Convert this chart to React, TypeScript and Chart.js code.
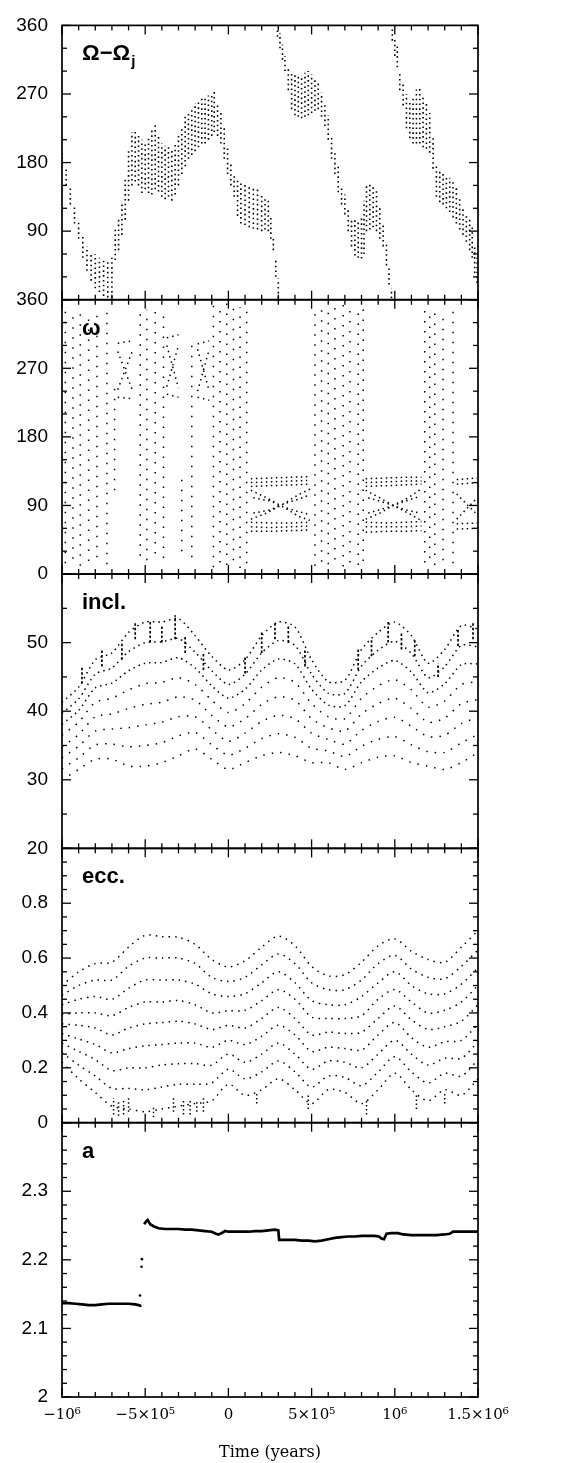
import { useEffect, useRef } from 'react';
import { Chart, registerables } from 'chart.js';

Chart.register(...registerables);

const KYR = 1000;

// ---------- axes ----------
const X_MIN = -1000000;
const X_MAX = 1500000;
const X_TICK_VALUES = [-1000000, -500000, 0, 500000, 1000000, 1500000];
const X_TICK_LABELS = ['−10⁶', '−5×10⁵', '0', '5×10⁵', '10⁶', '1.5×10⁶'];
const X_TITLE = 'Time (years)';

const NODE_TICKS = [90, 180, 270, 360];
const NODE_TICK_LABELS = ['90', '180', '270', '360'];
const PERI_TICKS = [0, 90, 180, 270, 360];
const PERI_TICK_LABELS = ['0', '90', '180', '270', '360'];
const INC_TICKS = [20, 30, 40, 50];
const INC_TICK_LABELS = ['20', '30', '40', '50'];
const ECC_TICKS = [0, 0.2, 0.4, 0.6, 0.8];
const ECC_TICK_LABELS = ['0', '0.2', '0.4', '0.6', '0.8'];
const A_TICKS = [2, 2.1, 2.2, 2.3];
const A_TICK_LABELS = ['2', '2.1', '2.2', '2.3'];

// ---------- panel 1 : Omega - Omega_j (deg), times in kyr ----------
const NODE_A_T = [-1000, -975, -950, -925, -900, -875, -850, -825, -800, -775, -750, -725, -700,
  -680, -660, -640, -620, -600, -580, -560, -540, -520, -500, -480, -460, -440, -420, -400, -380, -360, -340, -320, -300, -280, -260, -240, -220, -200, -180, -160, -140, -120, -100,
  -85, -65, -45, -25, -5, 15, 35, 55, 75,
  100, 125, 150, 175, 200,
  220, 240, 255, 270, 285, 300];
const NODE_A_HI = [195, 175, 150, 125, 105, 85, 70, 62, 60, 55, 52, 50, 55,
  95, 108, 128, 160, 195, 220, 222, 215, 210, 208, 212, 222, 232, 215, 205, 202, 200, 198, 205, 215, 228, 240, 248, 252, 258, 262, 265, 265, 268, 270,
  273, 258, 245, 225, 200, 180, 162, 158, 155,
  152, 150, 148, 145, 140,
  135, 130, 110, 80, 55, 28];
const NODE_A_LO = [172, 150, 125, 100, 80, 55, 38, 25, 15, 10, 5, 3, 3,
  52, 65, 85, 105, 130, 150, 155, 150, 140, 145, 140, 138, 145, 142, 135, 132, 135, 130, 138, 150, 165, 175, 185, 190, 195, 200, 205, 205, 210, 215,
  220, 215, 205, 185, 165, 150, 135, 110, 100,
  98, 95, 93, 92, 90,
  92, 90, 80, 65, 30, 2];

const NODE_B_T = [295, 310, 325, 340,
  360, 380, 400, 420, 440, 460, 480, 500, 520, 540, 560, 580, 600, 620, 640, 660, 680, 700, 720, 740, 760, 780, 800,
  815, 830, 850, 870, 890, 910, 930, 950, 965, 980];
const NODE_B_HI = [358, 350, 335, 320,
  305, 300, 296, 293, 295, 298, 300, 296, 290, 285, 272, 258, 242, 215, 195, 176, 150, 138, 120, 108, 106, 105, 110,
  130, 152, 155, 150, 145, 120, 100, 76, 45, 15];
const NODE_B_LO = [345, 330, 315, 300,
  275, 250, 242, 240, 238, 240, 242, 245, 248, 250, 240, 228, 210, 185, 165, 141, 125, 112, 90, 70, 58, 55, 54,
  60, 90, 92, 95, 90, 80, 70, 45, 20, 2];

const NODE_C_T = [985, 1000, 1015, 1030, 1050, 1070, 1090, 1110, 1130, 1150,
  1170, 1190, 1210, 1230, 1250, 1270, 1290, 1310, 1330, 1350,
  1370, 1390, 1410, 1430, 1450, 1465, 1480, 1495];
const NODE_C_HI = [358, 345, 335, 300, 285, 270, 262, 268, 276, 278,
  268, 258, 245, 212, 176, 168, 165, 162, 160, 155,
  148, 135, 122, 112, 106, 95, 71, 55];
const NODE_C_LO = [340, 320, 305, 275, 255, 225, 212, 205, 205, 205,
  200, 198, 193, 172, 135, 128, 125, 120, 115, 108,
  100, 92, 85, 76, 65, 55, 35, 22];

// ---------- panel 2 : omega (deg) ----------
const PERI_COL_T = [-980, -934, -890, -840, -790, -730, -684, -530, -490, -440, -390, -280, -220,
  -90, -50, -10, 30, 70, 110, 520, 560, 600, 640, 690, 730, 780, 810, 1180, 1210, 1240, 1290, 1350];
const PERI_COL_LO = [14, 20, 11, 17, 22, 13, 110, 24, 18, 27, 21, 30, 22,
  9, 15, 12, 18, 8, 14, 11, 16, 13, 19, 10, 15, 12, 17, 15, 21, 12, 18, 14];
const PERI_COL_HI = [345, 342, 348, 344, 340, 346, 245, 350, 347, 352, 349, 135, 300,
  355, 352, 356, 353, 350, 354, 352, 349, 353, 350, 355, 351, 348, 352, 348, 344, 347, 343, 346];

const PERI_CLUSTERS = [
  [[-665, 303], [-575, 306]], [[-665, 232], [-575, 230]], [[-665, 292], [-575, 240]], [[-665, 242], [-575, 294]],
  [[-370, 310], [-300, 314]], [[-370, 236], [-300, 232]], [[-370, 300], [-300, 244]], [[-370, 246], [-300, 300]],
  [[-185, 302], [-115, 306]], [[-185, 232], [-115, 228]], [[-185, 295], [-115, 240]], [[-185, 240], [-115, 295]],
];

const PERI_LIBRATION = [
  [[135, 125], [250, 126], [380, 127], [495, 128]],
  [[135, 120], [250, 121], [380, 122], [495, 123]],
  [[135, 115], [250, 116], [380, 117], [495, 118]],
  [[135, 68], [250, 67], [380, 67], [495, 68]],
  [[135, 62], [250, 61], [380, 62], [495, 63]],
  [[135, 56], [250, 56], [380, 57], [495, 58]],
  [[135, 110], [230, 100], [330, 88], [420, 76], [495, 70]],
  [[135, 72], [230, 80], [330, 92], [420, 104], [495, 112]],
  [[150, 100], [250, 96], [330, 88], [420, 82], [490, 78]],
  [[150, 80], [250, 84], [330, 92], [420, 98], [490, 104]],
  [[825, 125], [950, 126], [1060, 127], [1160, 127]],
  [[825, 120], [950, 121], [1060, 122], [1160, 122]],
  [[825, 115], [950, 116], [1060, 117], [1160, 118]],
  [[825, 68], [950, 67], [1060, 68], [1160, 69]],
  [[825, 62], [950, 62], [1060, 62], [1160, 63]],
  [[825, 55], [950, 56], [1060, 56], [1160, 57]],
  [[825, 110], [910, 100], [990, 90], [1080, 80], [1160, 70]],
  [[825, 72], [910, 80], [990, 90], [1080, 100], [1160, 112]],
  [[840, 100], [920, 95], [990, 90], [1070, 84], [1150, 80]],
  [[840, 80], [920, 85], [990, 90], [1070, 96], [1150, 102]],
  [[1372, 124], [1495, 126]],
  [[1372, 118], [1495, 120]],
  [[1372, 66], [1495, 67]],
  [[1372, 59], [1495, 60]],
  [[1372, 105], [1495, 78]],
  [[1372, 72], [1495, 100]],
];

// ---------- panels 3 & 4 : strand nodes every 100 kyr ----------
const STRAND_T = [-1000, -900, -800, -700, -600, -500, -400, -300, -200, -100, 0, 100, 200, 300, 400, 500, 600, 700, 800, 900, 1000, 1100, 1200, 1300, 1400, 1500];

const INC_1 = [41.3, 43.5, 47.5, 48.5, 51.5, 53, 53, 53.5, 51, 48, 46, 47.5, 51, 53, 52.3, 47.5, 44.3, 44.5, 49, 51.5, 53, 51, 47, 49, 52.5, 52];
const INC_2 = [39.7, 41.8, 45.4, 46.3, 48.7, 50, 50.1, 50.6, 48.6, 45.9, 43.9, 45.4, 48.5, 50.3, 49.6, 45.4, 42.6, 42.6, 46.6, 48.9, 50.2, 48.4, 44.9, 46.5, 49.6, 49.4];
const INC_3 = [38.1, 40.1, 43.4, 44.1, 45.9, 47, 47.1, 47.8, 46.3, 43.7, 41.9, 43.2, 46, 47.6, 46.9, 43.2, 40.9, 40.8, 44.3, 46.3, 47.4, 45.7, 42.7, 44, 46.8, 46.9];
const INC_4 = [36.5, 38.4, 41.3, 41.9, 43.1, 44, 44.2, 44.9, 43.9, 41.6, 39.8, 41.1, 43.5, 44.9, 44.2, 41.1, 39.2, 38.9, 41.9, 43.7, 44.6, 43.1, 40.6, 41.5, 43.9, 44.3];
const INC_5 = [34.8, 36.6, 39.2, 39.6, 40.4, 41, 41.3, 42.1, 41.6, 39.4, 37.7, 38.9, 41, 42.1, 41.6, 38.9, 37.6, 37.1, 39.6, 41.1, 41.9, 40.4, 38.4, 39, 41.1, 41.7];
const INC_6 = [33.2, 34.9, 37.1, 37.4, 37.6, 38, 38.4, 39.2, 39.2, 37.3, 35.6, 36.8, 38.5, 39.4, 38.9, 36.8, 35.9, 35.2, 37.2, 38.5, 39.1, 37.8, 36.3, 36.5, 38.2, 39.1];
const INC_7 = [31.6, 33.2, 35.1, 35.2, 34.8, 35, 35.4, 36.4, 36.9, 35.1, 33.6, 34.6, 36, 36.7, 36.2, 34.6, 34.2, 33.4, 34.9, 35.9, 36.3, 35.1, 34.1, 34, 35.4, 36.6];
const INC_8 = [30, 31.5, 33, 33, 32, 32, 32.5, 33.5, 34.5, 33, 31.5, 32.5, 33.5, 34, 33.5, 32.5, 32.5, 31.5, 32.5, 33.3, 33.5, 32.5, 32, 31.5, 32.5, 34];

// short vertical bursts near the top of the inclination cloud
const INC_SPIKE_T = [-880, -760, -640, -560, -470, -400, -320, -260, -150, 100, 200, 280, 360, 460, 780, 860, 960, 1040, 1120, 1260, 1380, 1470];
const INC_SPIKE_LO = [44, 46.5, 47.5, 50.5, 50, 50, 50.5, 48.5, 46, 45.5, 48.5, 50.5, 50, 46.5, 46, 48, 50, 49, 48, 45, 49.5, 50.5];
const INC_SPIKE_HI = [46.5, 49, 50, 53, 53, 52.5, 54, 51, 48.5, 48, 51.5, 53, 52.5, 49, 49, 50.5, 53, 51.5, 50.5, 47, 52, 53];

const ECC_1 = [0.5, 0.55, 0.58, 0.585, 0.64, 0.683, 0.678, 0.676, 0.65, 0.595, 0.568, 0.59, 0.64, 0.68, 0.645, 0.57, 0.535, 0.54, 0.585, 0.645, 0.67, 0.625, 0.595, 0.585, 0.64, 0.7];
const ECC_2 = [0.465, 0.5, 0.52, 0.52, 0.57, 0.6, 0.6, 0.6, 0.58, 0.53, 0.515, 0.53, 0.575, 0.615, 0.58, 0.51, 0.485, 0.485, 0.52, 0.58, 0.61, 0.56, 0.53, 0.525, 0.57, 0.63];
const ECC_3 = [0.43, 0.45, 0.46, 0.45, 0.49, 0.52, 0.52, 0.52, 0.505, 0.47, 0.46, 0.47, 0.51, 0.55, 0.51, 0.445, 0.43, 0.43, 0.46, 0.51, 0.55, 0.5, 0.47, 0.47, 0.505, 0.565];
const ECC_4 = [0.395, 0.4, 0.4, 0.39, 0.42, 0.44, 0.44, 0.445, 0.43, 0.4, 0.408, 0.41, 0.445, 0.485, 0.45, 0.385, 0.38, 0.38, 0.39, 0.45, 0.485, 0.44, 0.4, 0.41, 0.44, 0.5];
const ECC_5 = [0.36, 0.355, 0.345, 0.32, 0.345, 0.36, 0.365, 0.37, 0.36, 0.34, 0.355, 0.345, 0.38, 0.42, 0.38, 0.32, 0.33, 0.325, 0.33, 0.38, 0.425, 0.375, 0.34, 0.35, 0.37, 0.43];
const ECC_6 = [0.325, 0.305, 0.285, 0.255, 0.27, 0.28, 0.285, 0.29, 0.29, 0.275, 0.3, 0.285, 0.315, 0.355, 0.32, 0.26, 0.275, 0.27, 0.265, 0.32, 0.365, 0.31, 0.275, 0.295, 0.3, 0.36];
const ECC_7 = [0.29, 0.26, 0.23, 0.19, 0.2, 0.2, 0.21, 0.215, 0.215, 0.21, 0.25, 0.22, 0.25, 0.29, 0.25, 0.195, 0.225, 0.22, 0.2, 0.25, 0.3, 0.25, 0.21, 0.235, 0.235, 0.295];
const ECC_8 = [0.255, 0.21, 0.17, 0.125, 0.125, 0.12, 0.13, 0.14, 0.14, 0.145, 0.195, 0.16, 0.185, 0.225, 0.185, 0.13, 0.17, 0.165, 0.135, 0.185, 0.24, 0.185, 0.145, 0.18, 0.17, 0.23];
const ECC_9 = [0.22, 0.16, 0.11, 0.06, 0.05, 0.04, 0.05, 0.06, 0.07, 0.08, 0.14, 0.1, 0.12, 0.16, 0.12, 0.07, 0.12, 0.11, 0.07, 0.12, 0.18, 0.12, 0.08, 0.12, 0.1, 0.16];

const ECC_SPIKE_T = [-690, -660, -630, -600, -450, -330, -270, -230, -190, -150, 170, 480, 830, 1130, 1300];
const ECC_SPIKE_LO = [0.03, 0.025, 0.03, 0.04, 0.02, 0.04, 0.03, 0.03, 0.04, 0.04, 0.07, 0.05, 0.03, 0.05, 0.07];
const ECC_SPIKE_HI = [0.09, 0.08, 0.08, 0.09, 0.06, 0.09, 0.08, 0.08, 0.08, 0.09, 0.11, 0.1, 0.08, 0.1, 0.11];

// ---------- panel 5 : a (AU) ----------
const A1_T = [-1000, -960, -920, -880, -840, -800, -760, -720, -680, -640, -600, -560, -540, -530, -524];
const A1_V = [2.137, 2.137, 2.136, 2.135, 2.134, 2.134, 2.135, 2.136, 2.136, 2.136, 2.136, 2.135, 2.134, 2.133, 2.134];
const A2_T = [-506, -495, -485, -470, -450, -420, -380, -340, -300, -260, -220, -180, -140, -100, -75, -60, -40, -20, 0,
  40, 80, 120, 160, 200, 240, 280, 300, 305, 320, 360, 400, 440, 480, 520, 560, 600, 640, 680, 720, 760, 800, 840, 880,
  905, 920, 935, 950, 980, 1020, 1050, 1100, 1150, 1200, 1250, 1300, 1330, 1350, 1400, 1450, 1500];
const A2_V = [2.252, 2.256, 2.258, 2.252, 2.249, 2.246, 2.245, 2.245, 2.245, 2.244, 2.244, 2.243, 2.242, 2.241, 2.238, 2.237, 2.239, 2.242, 2.241,
  2.241, 2.241, 2.241, 2.242, 2.242, 2.243, 2.244, 2.243, 2.229, 2.229, 2.229, 2.229, 2.228, 2.228, 2.227, 2.228, 2.23, 2.232, 2.233, 2.234, 2.234, 2.235, 2.235, 2.235,
  2.234, 2.231, 2.23, 2.238, 2.239, 2.239, 2.237, 2.236, 2.236, 2.236, 2.236, 2.237, 2.238, 2.241, 2.241, 2.241, 2.241];
const A_GAP_T = [-531, -522, -520];
const A_GAP_V = [2.148, 2.19, 2.201];

// ---------- panel layout definitions ----------
const PANELS = [
  { id: 'yNode', min: 0, max: 360, minor: 30, per: 3, ticks: NODE_TICKS, labels: NODE_TICK_LABELS, weight: 5, title: 'node' },
  { id: 'yPeri', min: 0, max: 360, minor: 30, per: 3, ticks: PERI_TICKS, labels: PERI_TICK_LABELS, weight: 4, title: 'ω' },
  { id: 'yInc', min: 20, max: 60, minor: 5, per: 2, ticks: INC_TICKS, labels: INC_TICK_LABELS, weight: 3, title: 'incl.' },
  { id: 'yEcc', min: 0, max: 1, minor: 0.05, per: 4, ticks: ECC_TICKS, labels: ECC_TICK_LABELS, weight: 2, title: 'ecc.' },
  { id: 'yA', min: 2, max: 2.4, minor: 0.02, per: 5, ticks: A_TICKS, labels: A_TICK_LABELS, weight: 1, title: 'a' },
];

type P = { x: number; y: number | null };

function columns(ts: number[], lo: number[], hi: number[]): P[] {
  const out: P[] = [];
  ts.forEach((t, i) => {
    out.push({ x: t * KYR, y: lo[i] }, { x: t * KYR, y: hi[i] }, { x: t * KYR, y: null });
  });
  return out;
}
function segs(list: number[][][]): P[] {
  const out: P[] = [];
  list.forEach((s) => {
    s.forEach(([t, v]) => out.push({ x: t * KYR, y: v }));
    out.push({ x: s[s.length - 1][0] * KYR, y: null });
  });
  return out;
}
function strand(ts: number[], vs: number[]): P[] {
  return ts.map((t, i) => ({ x: t * KYR, y: vs[i] }));
}

function ds(data: P[], yAxisID: string, opts: any = {}) {
  return {
    type: 'line',
    data,
    yAxisID,
    xAxisID: 'x',
    borderColor: '#000',
    backgroundColor: '#000',
    borderWidth: 1.5,
    borderDash: [1.5, 3.5],
    pointRadius: 0,
    tension: 0,
    fill: false,
    spanGaps: false,
    ...opts,
  };
}

const framesPlugin = {
  id: 'panelFrames',
  afterDraw(chart: any) {
    const ctx = chart.ctx as CanvasRenderingContext2D;
    const xs = chart.scales.x;
    const { left, right } = chart.chartArea;
    ctx.save();
    ctx.strokeStyle = '#000';
    ctx.fillStyle = '#000';
    const line = (x1: number, y1: number, x2: number, y2: number) => {
      ctx.beginPath();
      ctx.moveTo(x1, y1);
      ctx.lineTo(x2, y2);
      ctx.stroke();
    };
    PANELS.forEach((p) => {
      const ys = chart.scales[p.id];
      const top = ys.top;
      const bottom = ys.bottom;
      ctx.lineWidth = 1.7;
      ctx.strokeRect(left, top, right - left, bottom - top);
      ctx.lineWidth = 1.3;
      for (let k = 0; k <= 25; k++) {
        const px = xs.getPixelForValue(X_MIN + k * 100000);
        const len = k % 5 === 0 ? 9 : 5;
        line(px, bottom, px, bottom - len);
        line(px, top, px, top + len);
      }
      const n = Math.round((p.max - p.min) / p.minor);
      for (let k = 0; k <= n; k++) {
        const py = ys.getPixelForValue(p.min + k * p.minor);
        const len = k % p.per === 0 ? 9 : 5;
        line(left, py, left + len, py);
        line(right, py, right - len, py);
      }
      const tx = left + 20;
      const ty = top + 35;
      ctx.textBaseline = 'alphabetic';
      ctx.textAlign = 'left';
      if (p.title === 'node') {
        ctx.font = 'bold 22px "Liberation Sans"';
        const main = 'Ω−Ω';
        ctx.fillText(main, tx, ty);
        const w = ctx.measureText(main).width;
        ctx.font = 'bold 15px "Liberation Sans"';
        ctx.fillText('j', tx + w + 1, ty + 6);
      } else {
        ctx.font = 'bold 22px "Liberation Sans"';
        ctx.fillText(p.title, tx, ty);
      }
    });
    ctx.restore();
  },
};

export default function App() {
  const ref = useRef<HTMLCanvasElement | null>(null);
  useEffect(() => {
    document.body.style.margin = '0';
    document.body.style.background = '#fff';
    const canvas = ref.current;
    if (!canvas) return;

    const nodeStyle = { borderWidth: 1.6, borderDash: [1.6, 3.2] };
    const datasets: any[] = [
      ds(columns(NODE_A_T, NODE_A_LO, NODE_A_HI), 'yNode', nodeStyle),
      ds(columns(NODE_B_T, NODE_B_LO, NODE_B_HI), 'yNode', nodeStyle),
      ds(columns(NODE_C_T, NODE_C_LO, NODE_C_HI), 'yNode', nodeStyle),
      ds(columns(PERI_COL_T, PERI_COL_LO, PERI_COL_HI), 'yPeri', { borderDash: [1.5, 8.5] }),
      ds(segs(PERI_CLUSTERS), 'yPeri', { borderDash: [1.5, 4] }),
      ds(segs(PERI_LIBRATION), 'yPeri', { borderDash: [1.5, 3.5] }),
    ];
    [INC_1, INC_2, INC_3].forEach((s) => datasets.push(ds(strand(STRAND_T, s), 'yInc', { tension: 0.25, borderDash: [1.5, 4] })));
    [INC_4, INC_5, INC_6, INC_7, INC_8].forEach((s) => datasets.push(ds(strand(STRAND_T, s), 'yInc', { tension: 0.25, borderDash: [1.5, 7] })));
    datasets.push(ds(columns(INC_SPIKE_T, INC_SPIKE_LO, INC_SPIKE_HI), 'yInc', { borderWidth: 1.7, borderDash: [2.5, 2] }));
    [ECC_1, ECC_2, ECC_3, ECC_4, ECC_5, ECC_6, ECC_7, ECC_8, ECC_9].forEach((s) =>
      datasets.push(ds(strand(STRAND_T, s), 'yEcc', { tension: 0.3, borderDash: [1.5, 5] })));
    datasets.push(ds(columns(ECC_SPIKE_T, ECC_SPIKE_LO, ECC_SPIKE_HI), 'yEcc', { borderDash: [1.5, 2.5] }));
    datasets.push(ds(strand(A1_T, A1_V), 'yA', { borderDash: [], borderWidth: 2.7 }));
    datasets.push(ds(strand(A2_T, A2_V), 'yA', { borderDash: [], borderWidth: 2.7 }));
    datasets.push(ds(strand(A_GAP_T, A_GAP_V), 'yA', { showLine: false, pointRadius: 1.3, pointBorderWidth: 0 }));

    const yScales: any = {};
    PANELS.forEach((p) => {
      yScales[p.id] = {
        type: 'linear',
        position: 'left',
        stack: 'panels',
        stackWeight: 1,
        weight: p.weight,
        min: p.min,
        max: p.max,
        grid: { display: false, drawTicks: false },
        border: { display: false },
        afterBuildTicks: (scale: any) => {
          scale.ticks = p.ticks.map((v) => ({ value: v }));
        },
        afterFit: (scale: any) => {
          scale.width = 62;
        },
        ticks: {
          autoSkip: false,
          padding: 14,
          color: '#000',
          font: { family: 'Liberation Sans', size: 19 },
          callback: (_v: any, i: number) => p.labels[i],
        },
      };
    });

    const chart = new Chart(canvas, {
      type: 'line',
      data: { datasets },
      options: {
        responsive: false,
        animation: false,
        devicePixelRatio: 1,
        events: [],
        layout: { padding: { top: 12, right: 104, bottom: 0, left: 0 } },
        plugins: { legend: { display: false }, tooltip: { enabled: false }, title: { display: false } },
        scales: {
          x: {
            type: 'linear',
            position: 'bottom',
            min: X_MIN,
            max: X_MAX,
            grid: { display: false, drawTicks: false },
            border: { display: false },
            afterBuildTicks: (scale: any) => {
              scale.ticks = X_TICK_VALUES.map((v) => ({ value: v }));
            },
            afterFit: (scale: any) => {
              scale.height = 66;
            },
            ticks: {
              autoSkip: false,
              maxRotation: 0,
              padding: 9,
              color: '#000',
              font: { family: 'DejaVu Serif', size: 15 },
              callback: (_v: any, i: number) => X_TICK_LABELS[i],
            },
            title: {
              display: true,
              text: X_TITLE,
              color: '#000',
              font: { family: 'DejaVu Serif', size: 16 },
              padding: { top: 0, bottom: 1 },
            },
          },
          ...yScales,
        },
      } as any,
      plugins: [framesPlugin],
    });
    return () => chart.destroy();
  }, []);

  return (
    <div style={{ width: 582, height: 1463 }}>
      <canvas ref={ref} width={582} height={1463} style={{ display: 'block', width: 582, height: 1463 }} />
    </div>
  );
}
